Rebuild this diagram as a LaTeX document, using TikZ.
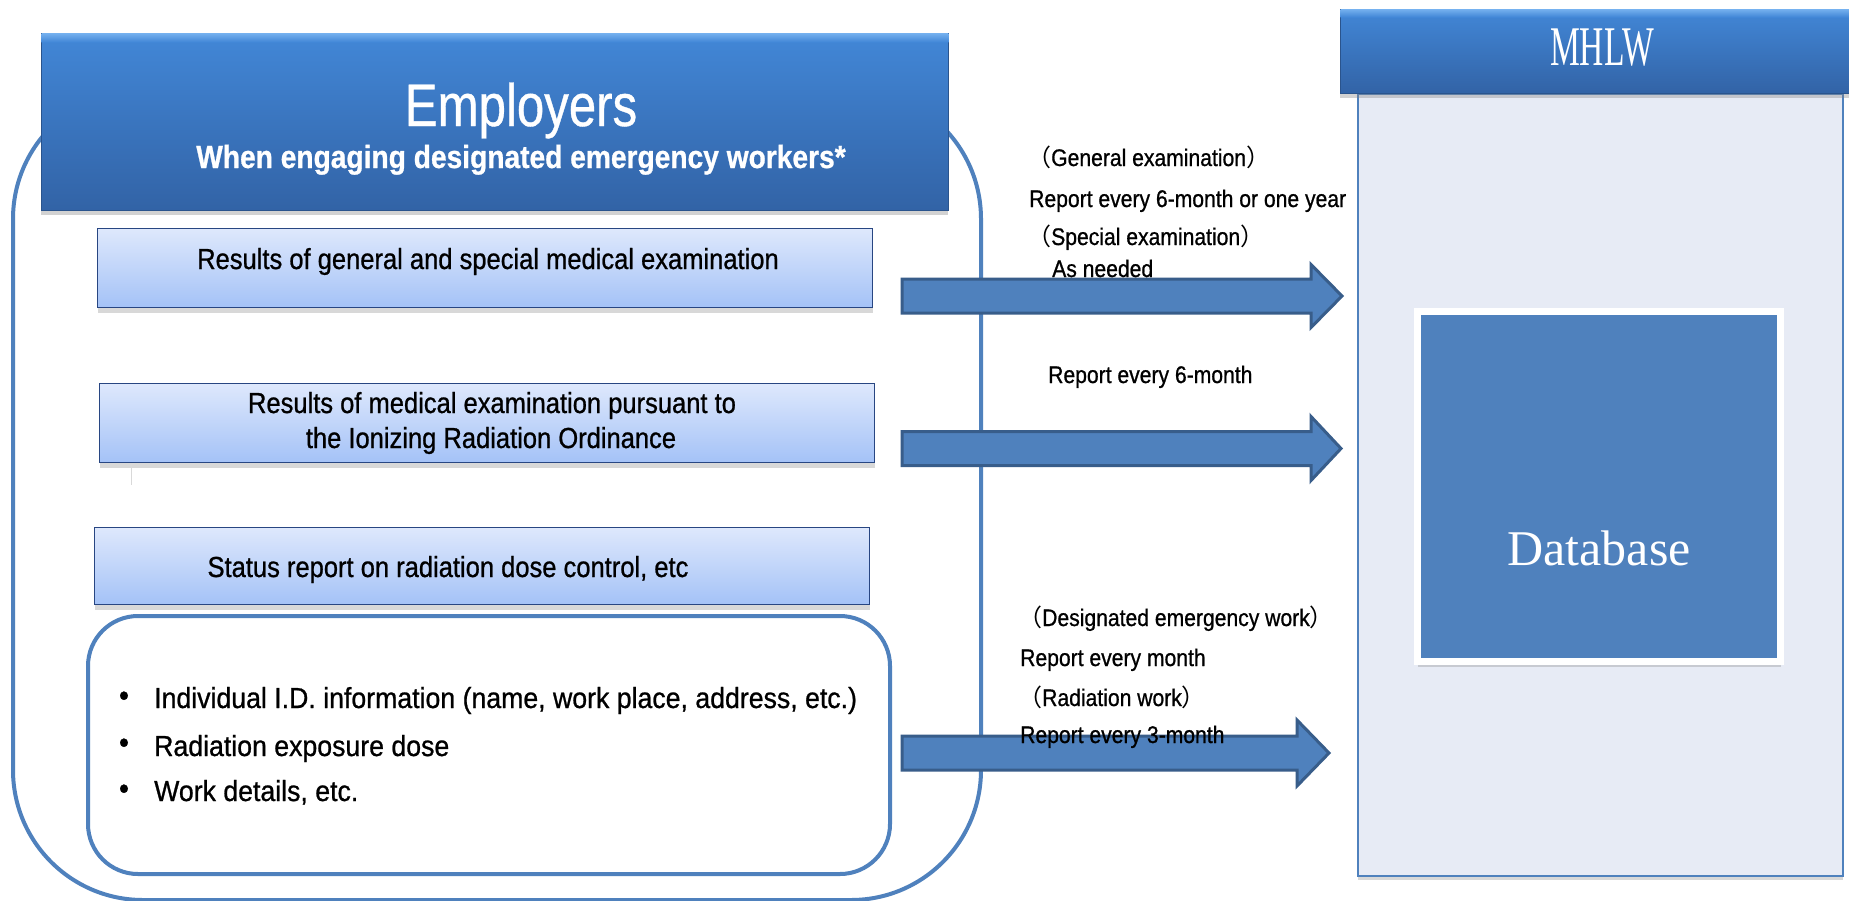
\documentclass[tikz,border=0pt]{standalone}
\usepackage{fontspec}
\setmainfont{Liberation Sans}
\newfontfamily\fa{Liberation Sans}[FakeStretch=0.88,FakeBold=0.8]
\newfontfamily\fb{Liberation Sans}[FakeStretch=0.92,FakeBold=0.8]
\newfontfamily\fe{Liberation Sans}[FakeStretch=0.82,FakeBold=0.6]
\newfontfamily\fm{Liberation Serif}[FakeStretch=0.6]
\newfontfamily\fd{Liberation Serif}
\newfontfamily\cjk{Noto Sans CJK JP}
\usetikzlibrary{shadows,calc}
\definecolor{cmain}{RGB}{79,129,189}
\definecolor{cdark}{RGB}{56,93,138}
\definecolor{htop}{RGB}{66,135,215}
\definecolor{hbot}{RGB}{50,99,166}
\definecolor{hlight}{RGB}{115,175,238}
\definecolor{ltop}{RGB}{222,232,252}
\definecolor{lbot}{RGB}{164,194,247}
\definecolor{lborder}{RGB}{40,70,130}
\definecolor{mbody}{RGB}{231,235,245}
\tikzset{
  hdr/.style={anchor=north west, inner sep=0pt, top color=htop, bottom color=hbot,
    draw=hbot!85!black, line width=0.8pt,
    drop shadow={opacity=0.35, shadow xshift=0pt, shadow yshift=-5pt}},
  lbox/.style={anchor=north west, inner sep=0pt, top color=ltop, bottom color=lbot,
    draw=lborder, line width=1.2pt, minimum width=775pt,
    drop shadow={opacity=0.3, shadow xshift=0pt, shadow yshift=-5pt}},
  blk/.style={fill=cmain, draw=cdark, line width=3pt, line join=miter},
  boxtext/.style={anchor=base, inner sep=0pt, font=\fa\fontsize{29}{34}\selectfont},
  bultext/.style={anchor=base west, inner sep=0pt, font=\fb\fontsize{29}{34}\selectfont},
  bulmark/.style={anchor=base, inner sep=0pt, font=\fb\fontsize{31}{34}\selectfont},
  lab/.style={anchor=base west, inner sep=0pt, font=\fa\fontsize{24}{28}\selectfont},
}
\newcommand\blkarrow[5]{%
  \draw[blk] let \p1=(#1), \p2=(#2) in
    ({\x1},{\y1+#3}) -- ({\x2-#5},{\y1+#3}) -- ({\x2-#5},{\y1+#4}) -- (\p2)
    -- ({\x2-#5},{\y1-#4}) -- ({\x2-#5},{\y1-#3}) -- ({\x1},{\y1-#3}) -- cycle;}
\newcommand\lp{{\cjk （}}
\newcommand\rp{{\cjk ）}}
\begin{document}
\begin{tikzpicture}[x=1pt,y=-1pt]
\useasboundingbox[fill=white] (0,0) rectangle (1849,900);

% ---------- Employers side ----------
\node[draw=cmain, line width=4pt, rounded corners=130pt, minimum width=968pt,
      minimum height=811pt, anchor=north west, inner sep=0pt] (emp) at (11,87) {};
\node[hdr, minimum width=907pt, minimum height=177pt] (emphdr) at (41,33) {};
\shade[top color=hlight, bottom color=htop] ($(emphdr.north west)+(0.5,0.5)$) rectangle ($(emphdr.north east)+(-0.5,9)$);
\node[anchor=base, inner sep=0pt, text=white, font=\fe\fontsize{60}{64}\selectfont] (emptitle) at (521,126) {Employers};
\node[anchor=base, inner sep=0pt, text=white, font=\fa\bfseries\fontsize{32}{36}\selectfont] (empsub) at (521,168) {When engaging designated emergency workers*};

\node[lbox, minimum height=79pt] (r1) at (97,228) {};
\node[lbox, minimum height=79pt] (r2) at (99,383) {};
\node[lbox, minimum height=77pt] (r3) at (94,527) {};
\draw[black!15, line width=1pt] (131,464) -- (131,485);

\node[boxtext] (t1) at (488,269) {Results of general and special medical examination};
\node[boxtext] (t2a) at (492,413) {Results of medical examination pursuant to};
\node[boxtext] (t2b) at (491,448) {the Ionizing Radiation Ordinance};
\node[boxtext] (t3) at (448,577) {Status report on radiation dose control, etc};

\node[draw=cmain, line width=4pt, rounded corners=50pt, fill=white, minimum width=802pt,
      minimum height=258pt, anchor=north west, inner sep=0pt] (ids) at (86,614) {};
\node[bulmark] (b1) at (124,706) {•};
\node[bulmark] (b2) at (124,753) {•};
\node[bulmark] (b3) at (124,799) {•};
\node[bultext] (i1) at (154,708) {Individual I.D. information (name, work place, address, etc.)};
\node[bultext] (i2) at (154,756) {Radiation exposure dose};
\node[bultext] (i3) at (154,801) {Work details, etc.};

% ---------- MHLW side ----------
\node[draw=cmain, line width=2pt, fill=mbody, anchor=north west, minimum width=485pt,
      minimum height=782pt, inner sep=0pt,
      drop shadow={opacity=0.3, shadow xshift=0pt, shadow yshift=-4pt}] (mb) at (1357,93) {};
\node[hdr, minimum width=509pt, minimum height=84pt] (mh) at (1340,9) {};
\shade[top color=hlight, bottom color=htop] ($(mh.north west)+(0.5,0.5)$) rectangle ($(mh.north east)+(-0.5,8)$);
\node[anchor=base, inner sep=0pt, text=white, font=\fm\fontsize{56}{60}\selectfont] (mhtxt) at (1602,65) {MHLW};

\node[fill=cmain, draw=white, line width=7pt, minimum width=363pt, minimum height=350pt,
      inner sep=0pt, drop shadow={opacity=0.3, shadow xshift=0pt, shadow yshift=-5pt}] (db) at (1599,486.5) {};
\node[anchor=base, inner sep=0pt, text=white, font=\fd\fontsize{50}{54}\selectfont] (dbtxt) at (1599,565) {Database};

% ---------- arrows ----------
\coordinate (a1s) at (902,296);
\coordinate (a1e) at (1342,296);
\coordinate (a2s) at (902,448.5);
\coordinate (a2e) at (1341,448.5);
\coordinate (a3s) at (902,753);
\coordinate (a3e) at (1329,753);
\blkarrow{a1s}{a1e}{17pt}{31.5pt}{31pt}
\blkarrow{a2s}{a2e}{17pt}{32pt}{30pt}
\blkarrow{a3s}{a3e}{17pt}{33pt}{32pt}

% ---------- labels ----------
\node[lab] (l1) at (1027,166) {\lp General examination\rp};
\node[lab] (l2) at (1029,207) {Report every 6-month or one year};
\node[lab] (l3) at (1027,245) {\lp Special examination\rp};
\node[lab] (l4) at (1052,277) {As needed};
\node[lab] (l5) at (1048,383) {Report every 6-month};
\node[lab] (l6) at (1018,626) {\lp Designated emergency work\rp};
\node[lab] (l7) at (1020,666) {Report every month};
\node[lab] (l8) at (1018,706) {\lp Radiation work\rp};
\node[lab] (l9) at (1020,743) {Report every 3-month};
\end{tikzpicture}
\end{document}
